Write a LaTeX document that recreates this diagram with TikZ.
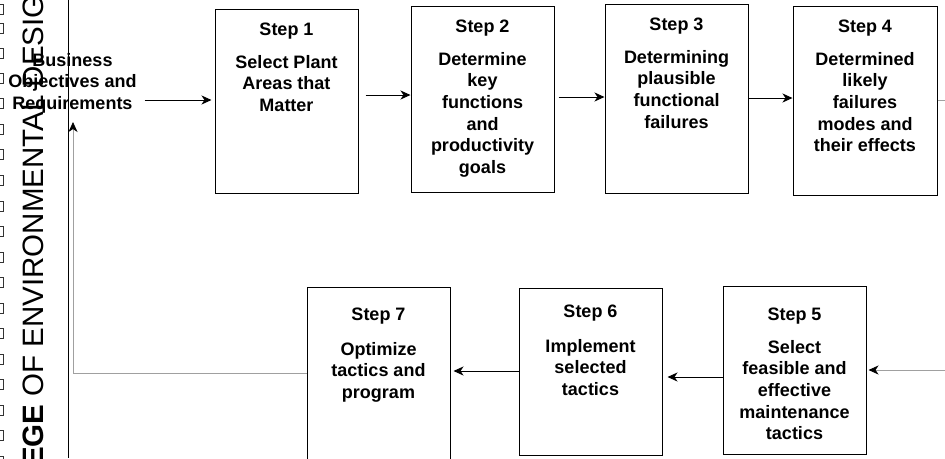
\documentclass[tikz,border=0pt]{standalone}
\usepackage{fontspec}
\setmainfont{Liberation Sans}
\usetikzlibrary{arrows.meta,calc}
\definecolor{lgray}{HTML}{A0A0A0}
\tikzset{
  stepbox/.style={draw=black, line width=1pt, inner sep=0pt, minimum width=143pt},
  lbl/.style={font=\fontsize{18}{21.7}\selectfont\bfseries, align=center, inner sep=0pt, anchor=base},
  arr/.style={-{Stealth[length=10pt,width=9pt,inset=3pt]}, line width=0.9pt, draw=black},
  garr/.style={-{Stealth[length=10pt,width=9pt,inset=3pt,color=black]}, line width=0.8pt, draw=lgray},
  gline/.style={line width=0.8pt, draw=lgray},
  tick/.style={draw=black!80, line width=0.6pt}
}
\begin{document}
\begin{tikzpicture}[x=1pt,y=-1pt]
\useasboundingbox (0,0) rectangle (945,458);
% left strip squares
\foreach \yy in {4,23,48,73,98,124,149,175,201,226,252,277,303,328,354,379,405,430,456}
  \draw[tick] (-7,\yy) rectangle (3,\yy+10);
% rotated banner text
\node[rotate=90, anchor=base west, font=\fontsize{29.5}{30}\selectfont, inner sep=0pt] (college) at (43,467) {\textbf{EGE} OF ENVIRONMENTAL DESIG};
% business node (anchor = baseline of last line)
\node[lbl] (biz) at (72.5,109.4) {Business\\Objectives and\\Requirements};
% left vertical dark line
\coordinate (vtop) at (68,0);
\coordinate (vbot) at (68,458);
\draw[line width=1pt] (vtop) -- (vbot);
% boxes
\node[stepbox, minimum height=184pt] (s1) at (286.5,101) {};
\node[stepbox, minimum height=186pt] (s2) at (482.5,99) {};
\node[stepbox, minimum height=189pt] (s3) at (676.5,98.5) {};
\node[stepbox, minimum height=189pt, minimum width=144pt] (s4) at (865,100.5) {};
\node[stepbox, minimum height=183pt] (s7) at (378.5,378.5) {};
\node[stepbox, minimum height=167pt] (s6) at (590.5,371.5) {};
\node[stepbox, minimum height=168pt] (s5) at (794.5,370) {};
% texts (anchor = baseline of last line)
\node[lbl] (t1) at (286.5,35) {Step 1};
\node[lbl] (b1) at (286.5,111.4) {Select Plant\\Areas that\\Matter};
\node[lbl] (t2) at (482.5,32) {Step 2};
\node[lbl] (b2) at (482.5,173.5) {Determine\\key\\functions\\and\\productivity\\goals};
\node[lbl] (t3) at (676.5,30) {Step 3};
\node[lbl] (b3) at (676.5,128.1) {Determining\\plausible\\functional\\failures};
\node[lbl] (t4) at (865,32) {Step 4};
\node[lbl] (b4) at (865,151.8) {Determined\\likely\\failures\\modes and\\their effects};
\node[lbl] (t7) at (378.5,320) {Step 7};
\node[lbl] (b7) at (378.5,398.4) {Optimize\\tactics and\\program};
\node[lbl] (t6) at (590.5,317) {Step 6};
\node[lbl] (b6) at (590.5,395.4) {Implement\\selected\\tactics};
\node[lbl] (t5) at (794.5,320) {Step 5};
\node[lbl] (b5) at (794.5,439.8) {Select\\feasible and\\effective\\maintenance\\tactics};
% connectors
\coordinate (redge1) at (945,100);
\coordinate (redge2) at (945,370);
\coordinate (corner) at (73,373);
\coordinate (uptip) at (73,122);
\draw[arr, shorten <=8pt, shorten >=3pt] (biz.east |- 0,100) -- (s1.west |- 0,100);
\draw[arr, shorten <=7pt] (s1.east |- 0,95) -- (s2.west |- 0,95);
\draw[arr, shorten <=4pt] (s2.east |- 0,97) -- (s3.west |- 0,97);
\draw[arr] (s3.east |- 0,98) -- (s4.west |- 0,98);
\draw[gline] (s4.east |- redge1) -- (redge1);
\draw[garr, shorten >=2pt] (redge2) -- (s5.east |- redge2);
\draw[arr, shorten >=5pt] (s5.west |- 0,377) -- (s6.east |- 0,377);
\draw[arr, shorten >=3pt] (s6.west |- 0,371) -- (s7.east |- 0,371);
\draw[garr] (s7.west |- corner) -- (corner) -- (uptip);
\end{tikzpicture}
\end{document}
